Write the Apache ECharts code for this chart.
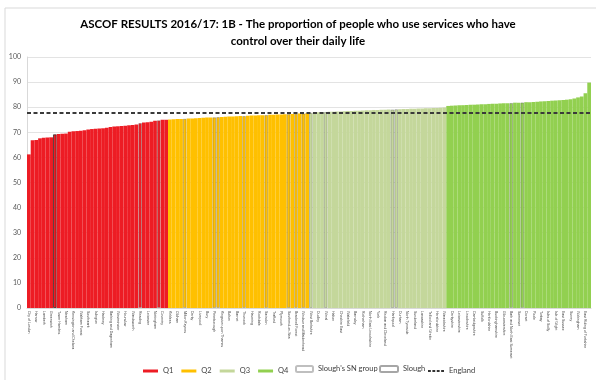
<!DOCTYPE html>
<html><head><meta charset="utf-8">
<script src="https://cdn.jsdelivr.net/npm/echarts@6/dist/echarts.min.js"></script>
<style>html,body{margin:0;padding:0;background:#fff}#c{width:596px;height:380px}</style>
</head><body><div id="c"></div>
<script>
const councilsQ1 = ["City of London","Ealing","Harrow","Brent","Lambeth","Hammersmith and Fulham","Greenwich","Slough","Tower Hamlets","Manchester","Newham","Hillingdon","Kensington and Chelsea","Enfield","Waltham Forest","Haringey","Southwark","Camden","Islington","Luton","Hackney","Lewisham","Barking and Dagenham","Birmingham","Westminster","Croydon","Hounslow","Redbridge","Wandsworth","Merton","Reading","Sandwell","Leicester","Bristol","Nottingham","Wolverhampton","Coventry","Bradford"];
const councilsQ2 = ["Kirklees","Blackburn with Darwen","Oldham","Salford","Milton Keynes","Bedford","Derby","Southampton","Liverpool","Knowsley","Bury","Sutton","Peterborough","Medway","Kingston upon Thames","Portsmouth","Bolton","Wigan","Barnet","Leeds","Thurrock","Walsall","Havering","Bromley","Rochdale","Tameside","Swindon","Stockport","Trafford","Sheffield","Plymouth","Bexley","Southend-on-Sea","Newcastle upon Tyne","Bracknell Forest","Gateshead","Windsor and Maidenhead","Stoke-on-Trent"];
const councilsQ3 = ["West Berkshire","Solihull","Dudley","Sefton","Wirral","St Helens","Halton","Warrington","Cheshire East","Cheshire West and Chester","Wakefield","Calderdale","Barnsley","Doncaster","Rotherham","Hull","North East Lincolnshire","North Lincolnshire","York","Middlesbrough","Redcar and Cleveland","Stockton-on-Tees","Hartlepool","Darlington","Durham","Northumberland","North Tyneside","South Tyneside","Sunderland","Cumbria","Lancashire","Blackpool","Telford and Wrekin","Shropshire","Herefordshire","Worcestershire","Warwickshire"];
const councilsQ4 = ["Staffordshire","Derbyshire","Nottinghamshire","Leicestershire","Rutland","Lincolnshire","Northamptonshire","Cambridgeshire","Norfolk","Suffolk","Essex","Hertfordshire","Central Bedfordshire","Buckinghamshire","Oxfordshire","Gloucestershire","South Gloucestershire","Bath and North East Somerset","North Somerset","Somerset","Wiltshire","Dorset","Bournemouth","Poole","Devon","Torbay","Cornwall","Isles of Scilly","Hampshire","Isle of Wight","West Sussex","East Sussex","Brighton and Hove","Surrey","Kent","Wokingham","North Yorkshire","East Riding of Yorkshire","Richmond upon Thames"];

const valuesQ1 = [61.2,66.8,66.9,67.6,67.8,67.9,68.0,69.2,69.3,69.4,69.5,70.2,70.4,70.5,70.6,70.8,71.1,71.3,71.4,71.5,71.6,71.8,72.1,72.3,72.4,72.5,72.6,72.8,72.9,73.1,73.7,73.9,74.0,74.2,74.6,74.8,75.0,75.0];
const valuesQ2 = [75.1,75.2,75.3,75.3,75.4,75.5,75.5,75.6,75.7,75.8,75.9,75.9,76.0,76.1,76.1,76.2,76.3,76.3,76.4,76.5,76.5,76.6,76.7,76.7,76.8,76.8,76.9,77.0,77.0,77.1,77.1,77.2,77.3,77.3,77.4,77.5,77.5,77.6];
const valuesQ3 = [77.8,77.9,78.0,78.0,78.1,78.2,78.2,78.3,78.3,78.4,78.5,78.5,78.6,78.6,78.7,78.8,78.8,78.9,78.9,79.0,79.0,79.1,79.1,79.2,79.2,79.3,79.3,79.4,79.4,79.5,79.5,79.6,79.6,79.7,79.7,79.8,79.9];
const valuesQ4 = [80.5,80.6,80.7,80.8,80.8,80.9,81.0,81.0,81.1,81.2,81.2,81.3,81.4,81.4,81.5,81.6,81.6,81.7,81.8,81.8,81.9,82.0,82.0,82.1,82.2,82.3,82.4,82.5,82.6,82.7,82.8,82.9,83.0,83.2,83.5,83.9,84.3,85.6,89.8];

const snGroup = ["Reading","Wolverhampton","Milton Keynes","Peterborough","Medway","Thurrock","Swindon","Southend-on-Sea","Bracknell Forest","Windsor and Maidenhead","West Berkshire","Wirral","Hartlepool","Darlington","Bath and North East Somerset","Wiltshire"];
const slough = "Slough";
const englandValue = 77.7;
const yTicks = [0,10,20,30,40,50,60,70,80,90,100];

const title = "ASCOF RESULTS 2016/17: 1B - The proportion of people who use services who have\ncontrol over their daily life";
const qNames = ["Q1","Q2","Q3","Q4"];
const qColors = ["#ED1C24","#FFC000","#C4D79B","#92D050"];

const categories = [].concat(councilsQ1, councilsQ2, councilsQ3, councilsQ4);
const groups = [[councilsQ1, valuesQ1],[councilsQ2, valuesQ2],[councilsQ3, valuesQ3],[councilsQ4, valuesQ4]];

const barSeries = groups.map((g, gi) => {
  const data = categories.map(() => null);
  g[0].forEach((name, i) => {
    const idx = categories.indexOf(name);
    const item = { value: g[1][i] };
    if (name === slough) {
      item.itemStyle = { borderColor: 'rgba(40,40,40,0.75)', borderWidth: 1 };
    } else if (snGroup.indexOf(name) >= 0) {
      item.itemStyle = { borderColor: 'rgba(90,90,90,0.35)', borderWidth: 1 };
    }
    data[idx] = item;
  });
  return {
    name: qNames[gi], type: 'bar', data: data,
    barGap: '-100%', barCategoryGap: 0,
    itemStyle: { color: qColors[gi] },
    silent: true
  };
});

const legendText = { fontSize: 7.5, color: '#404040', fontFamily: 'Lato' };
const chart = echarts.init(document.getElementById('c'), null, { renderer: 'canvas' });
chart.setOption({
  animation: false,
  backgroundColor: '#fff',
  title: {
    text: title, left: 'center', top: 11,
    textStyle: { fontFamily: 'Lato', fontWeight: 'bold', fontSize: 11.5, color: '#000', lineHeight: 17 }
  },
  graphic: [{ type: 'rect', shape: { x: 5, y: 8, width: 620, height: 400 }, style: { fill: 'none', stroke: '#d9d9d9', lineWidth: 1 }, silent: true }],
  grid: { left: 27, right: 5, top: 57, bottom: 72, containLabel: false },
  legend: [{
    data: qNames, top: 367, left: 143, padding: 0, itemWidth: 15, itemHeight: 3, itemGap: 8, icon: 'rect',
    textStyle: legendText
  }, {
    data: ["Slough's SN group"], top: 365, left: 295, padding: 0, itemWidth: 17, itemHeight: 6,
    textStyle: legendText
  }, {
    data: ["Slough"], top: 365, left: 379, padding: 0, itemWidth: 18, itemHeight: 6,
    textStyle: legendText
  }, {
    data: [{ name: "England", icon: 'path://M0,0h3v2h-3zM4.6,0h3v2h-3zM9.2,0h3v2h-3zM13.8,0h3v2h-3z' }],
    top: 367, left: 428, padding: 0, itemWidth: 16, itemHeight: 2,
    itemStyle: { color: '#333' }, textStyle: legendText
  }],
  xAxis: {
    type: 'category', data: categories,
    axisLine: { show: true, lineStyle: { color: '#d9d9d9' } },
    axisTick: { show: false },
    axisLabel: { interval: 1, rotate: -90, fontSize: 3.5, color: '#404040', margin: 3, fontFamily: 'Liberation Sans' }
  },
  yAxis: {
    type: 'value', min: yTicks[0], max: yTicks[yTicks.length-1], interval: 10,
    axisLine: { show: true, lineStyle: { color: '#d9d9d9' } },
    axisTick: { show: false },
    splitLine: { lineStyle: { color: '#e3e3e3' } },
    axisLabel: { fontSize: 7, color: '#595959', margin: 6, fontFamily: 'Lato' }
  },
  series: barSeries.concat([
    { name: "Slough's SN group", type: 'bar', data: [], barGap: '-100%', barCategoryGap: 0, itemStyle: { color: '#fff', borderColor: '#bfbfbf', borderWidth: 1 } },
    { name: "Slough", type: 'bar', data: [], barGap: '-100%', barCategoryGap: 0, itemStyle: { color: '#fff', borderColor: '#a6a6a6', borderWidth: 1.5 } },
    { name: "England", type: 'line', data: [], symbol: 'none', itemStyle: { color: '#333' }, lineStyle: { color: '#333', type: 'dashed', width: 2 },
      markLine: { silent: true, symbol: 'none', label: { show: false }, lineStyle: { color: '#3a3a3a', type: [4, 2.5], width: 2 }, data: [{ yAxis: englandValue }] } }
  ])
});
</script></body></html>
